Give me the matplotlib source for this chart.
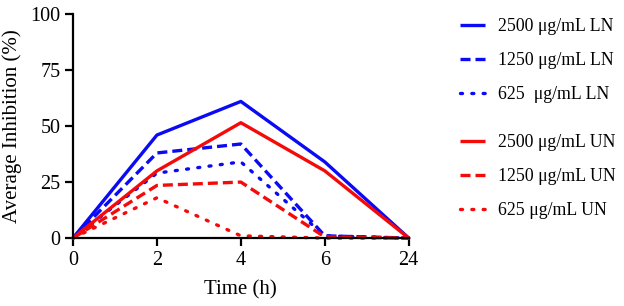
import matplotlib
matplotlib.use("Agg")
import matplotlib.pyplot as plt

plt.rcParams['font.family'] = ['Liberation Serif', 'DejaVu Serif']

times = ["0", "2", "4", "6", "24"]
ln_2500 = [0, 46, 61, 34, 0]
ln_1250 = [0, 38, 42, 1, 0]
ln_625 = [0, 29, 34, 1, 0]
un_2500 = [0, 30, 51.5, 30, 0]
un_1250 = [0, 23.5, 25, 0.5, 0]
un_625 = [0, 18, 1, 0, 0]

labels_ln = ["2500 μg/mL LN", "1250 μg/mL LN", "625  μg/mL LN"]
labels_un = ["2500 μg/mL UN", "1250 μg/mL UN", "625 μg/mL UN"]

blue = "#0a0af5"
red = "#f50a0a"

fig = plt.figure(figsize=(6.24, 3.06), dpi=100)
ax = fig.add_axes([0.117, 0.222, 0.538, 0.732])

x = list(range(len(times)))
styles = [("-", 2.4), ((0, (3, 1.5)), 2.4), ((0, (0.6, 2.8)), 2.4)]
series = [(ln_2500, blue, 0), (ln_1250, blue, 1), (ln_625, blue, 2),
          (un_2500, red, 0), (un_1250, red, 1), (un_625, red, 2)]
handles = []
for vals, col, si in series:
    ls, lw = styles[si]
    h, = ax.plot(x, vals, color=col, linestyle=ls, linewidth=lw, clip_on=False,
                 solid_capstyle='butt', dash_capstyle='butt' if si == 1 else 'round')
    handles.append(h)

ax.set_xlim(0, 4)
ax.set_ylim(0, 100)
ax.set_xticks(x)
ax.set_xticklabels(times)
ax.set_yticks([0, 25, 50, 75, 100])
for s in ["top", "right"]:
    ax.spines[s].set_visible(False)
for s in ["left", "bottom"]:
    ax.spines[s].set_linewidth(1.6)
ax.tick_params(direction="out", length=6, width=1.6, labelsize=14.5, pad=3)
ax.set_xlabel("Time (h)", fontsize=15, labelpad=8)
ax.set_ylabel("Average Inhibition (%)", fontsize=15, labelpad=6)

common = dict(loc="upper left", frameon=False, fontsize=12.8, handlelength=1.4,
              labelspacing=0.95, handletextpad=0.72, borderpad=0, borderaxespad=0)
leg1 = fig.legend(handles[:3], labels_ln, bbox_to_anchor=(0.737, 0.94), **common)
leg2 = fig.legend(handles[3:], labels_un, bbox_to_anchor=(0.737, 0.562), **common)

fig.savefig("out.png", dpi=100)
